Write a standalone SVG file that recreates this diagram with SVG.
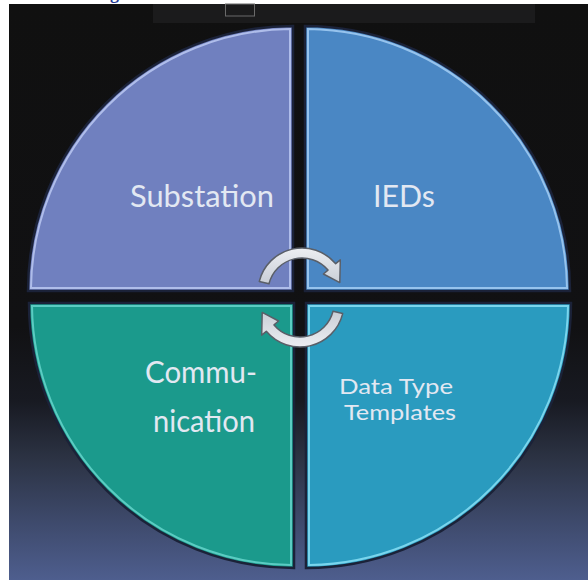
<svg xmlns="http://www.w3.org/2000/svg" width="588" height="580" viewBox="0 0 588 580">
  <defs>
    <linearGradient id="bg" x1="0" y1="4" x2="0" y2="580" gradientUnits="userSpaceOnUse">
      <stop offset="0" stop-color="#101010"/>
      <stop offset="0.56" stop-color="#111113"/>
      <stop offset="0.69" stop-color="#181a22"/>
      <stop offset="0.79" stop-color="#2c3344"/>
      <stop offset="0.9" stop-color="#3e4a6c"/>
      <stop offset="1" stop-color="#4e5e8e"/>
    </linearGradient>
    <linearGradient id="arrowFill" x1="0" y1="0" x2="0" y2="1">
      <stop offset="0" stop-color="#eceef2"/>
      <stop offset="1" stop-color="#c9ced6"/>
    </linearGradient>
    <style>
      .quad { stroke: #1b2238; stroke-width: 2.5; }
      .hl { fill: none; stroke-width: 2; stroke-opacity: 0.9; }
      .lbl { font-family: Lato, "Open Sans", "Liberation Sans", sans-serif; fill: #e2e8f2; text-anchor: middle; }
      .big { font-size: 30px; }
      .small { font-size: 21px; }
      .cyc { fill: url(#arrowFill); stroke: #5a5f68; stroke-width: 1.5; stroke-linejoin: round; }
    </style>
  </defs>

  <rect x="0" y="0" width="588" height="580" fill="#ffffff"/>
  <rect x="9" y="4" width="579" height="576" fill="url(#bg)"/>
  <rect x="153" y="4" width="382" height="19" fill="#1b1b1c"/>
  <rect x="225.5" y="4" width="29" height="12" fill="none" stroke="#6a6a6a" stroke-width="1"/>
  <text x="110" y="-1" font-family="Liberation Serif, serif" font-weight="bold" font-size="18" fill="#1f3a93">g</text>

  <g id="substation">
    <path class="quad" d="M 293 291 L 28 291 A 265 265 0 0 1 293 26 Z" fill="#7080bf"/>
    <path class="hl" d="M 290 288 L 31 288 A 262 262 0 0 1 290 29 Z" stroke="#b6c3ee"/>
    <text class="lbl big" x="202" y="207" textLength="144" lengthAdjust="spacingAndGlyphs">Substation</text>
  </g>

  <g id="ieds">
    <path class="quad" d="M 305 291 L 305 26 A 265 265 0 0 1 570 291 Z" fill="#4a87c4"/>
    <path class="hl" d="M 308 288 L 308 29 A 262 262 0 0 1 567 288 Z" stroke="#9fcaf2"/>
    <text class="lbl big" x="404" y="207" textLength="62" lengthAdjust="spacingAndGlyphs">IEDs</text>
  </g>

  <g id="communication">
    <path class="quad" d="M 294 303 L 294 568 A 265 265 0 0 1 29 303 Z" fill="#1b9a8c"/>
    <path class="hl" d="M 291 306 L 291 565 A 262 262 0 0 1 32 306 Z" stroke="#62d2c8"/>
    <text class="lbl big" x="201" y="383" textLength="112" lengthAdjust="spacingAndGlyphs">Commu-</text>
    <text class="lbl big" x="204" y="432" textLength="102" lengthAdjust="spacingAndGlyphs">nication</text>
  </g>

  <g id="data-type-templates">
    <path class="quad" d="M 306 303 L 571 303 A 265 265 0 0 1 306 568 Z" fill="#2a9bbf"/>
    <path class="hl" d="M 309 306 L 568 306 A 262 262 0 0 1 309 565 Z" stroke="#82dcf2"/>
    <text class="lbl small" x="396" y="394" textLength="114" lengthAdjust="spacingAndGlyphs">Data Type</text>
    <text class="lbl small" x="400" y="420" textLength="112" lengthAdjust="spacingAndGlyphs">Templates</text>
  </g>

  <g id="connectors">
    <path class="cyc" d="M 259.3 281.4 A 44 44 0 0 1 335.7 263.7 L 340.3 259.9 L 339.8 282.6 L 323.4 274.0 L 328.0 270.1 A 34 34 0 0 0 269.0 283.8 Z"/>
    <path class="cyc" transform="rotate(180 301 297.5)" d="M 259.3 281.4 A 44 44 0 0 1 335.7 263.7 L 340.3 259.9 L 339.8 282.6 L 323.4 274.0 L 328.0 270.1 A 34 34 0 0 0 269.0 283.8 Z"/>
  </g>
</svg>
